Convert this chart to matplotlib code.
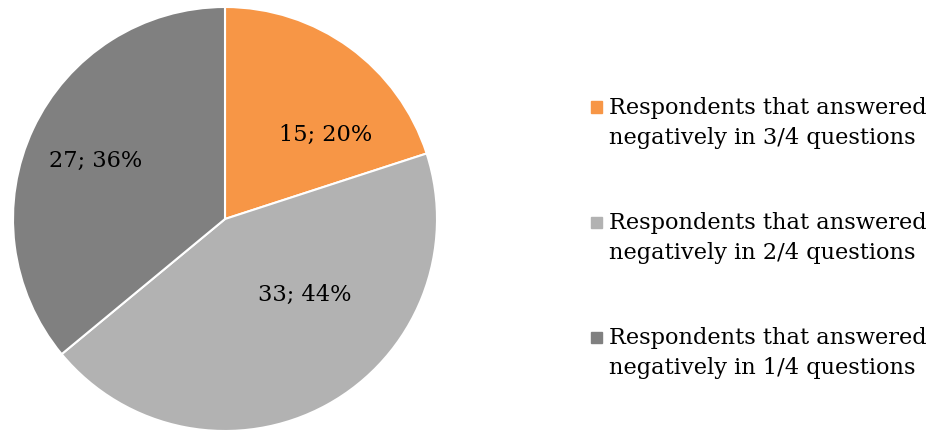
import matplotlib.pyplot as plt
import numpy as np

categories = [
    "Respondents that answered\nnegatively in 3/4 questions",
    "Respondents that answered\nnegatively in 2/4 questions",
    "Respondents that answered\nnegatively in 1/4 questions",
]
counts = [15, 33, 27]
percents = [20, 44, 36]
colors = ["#F79646", "#B2B2B2", "#808080"]

plt.rcParams["font.family"] = ["DejaVu Serif"]

fig = plt.figure(figsize=(9.32, 4.37), dpi=100)
W, H = 932, 437
cx, cy, r = 225, 219, 212
ax = fig.add_axes([(cx - r) / W, (H - cy - r) / H, 2 * r / W, 2 * r / H])

wedges, texts = ax.pie(counts, colors=colors, startangle=90, counterclock=False,
                       wedgeprops=dict(edgecolor="white", linewidth=1.5))
ax.set_aspect("equal")
ax.set_xlim(-1, 1)
ax.set_ylim(-1, 1)
ax.axis("off")

# label placement (angle clockwise from top, fraction of radius)
label_pos = [(50, 0.62), (133.5, 0.52), (294, 0.67)]
for (ang, dist), c, p in zip(label_pos, counts, percents):
    a = np.deg2rad(ang)
    ax.text(dist * np.sin(a), dist * np.cos(a), f"{c}; {p}%",
            ha="center", va="center", fontsize=16.2, color="black")

# legend
for i, (lab, col) in enumerate(zip(categories, colors)):
    yc = 1 - (123 + i * 115) / H
    fig.patches.append(plt.Rectangle((591 / W, yc + 10.5 / H), 11 / W, 11 / H,
                                     transform=fig.transFigure, color=col))
    fig.text(609 / W, yc, lab, ha="left", va="center", fontsize=16.2,
             linespacing=1.42, color="black")

fig.savefig("out.png", dpi=100)
